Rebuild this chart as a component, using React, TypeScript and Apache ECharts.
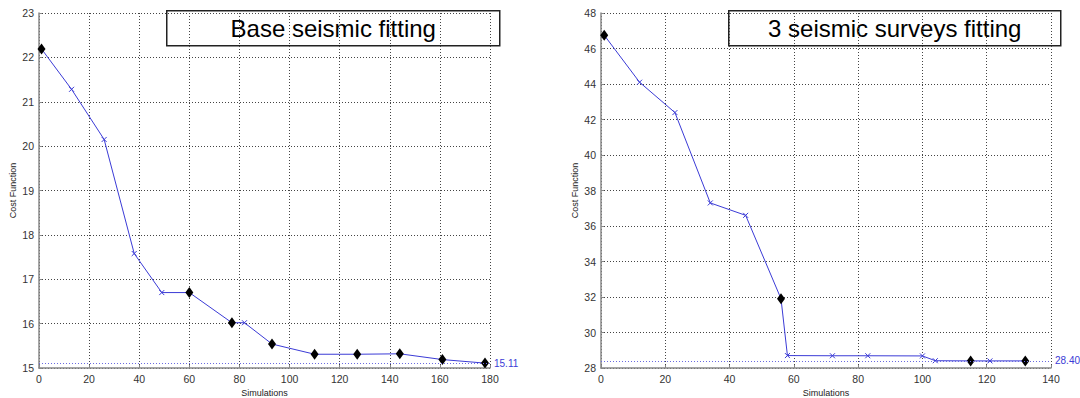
import React, { useEffect, useRef } from "react";
import * as echarts from "echarts";

// Left chart: Base seismic fitting
const leftSims = [1, 13, 26, 38, 49, 60, 77, 82, 93, 110, 127, 144, 161, 178];
const leftCost = [22.19, 21.28, 20.15, 17.58, 16.7, 16.7, 16.02, 16.02, 15.54, 15.31, 15.31, 15.32, 15.19, 15.11];
const leftMarks = ["D", "x", "x", "x", "x", "D", "D", "x", "D", "D", "D", "D", "D", "D"];
const leftFinal = 15.11;

// Right chart: 3 seismic surveys fitting
const rightSims = [1, 12, 23, 34, 45, 56, 58, 72, 83, 100, 104, 115, 121, 132];
const rightCost = [46.75, 44.1, 42.39, 37.3, 36.6, 31.9, 28.7, 28.69, 28.69, 28.68, 28.41, 28.4, 28.4, 28.4];
const rightMarks = ["D", "x", "x", "x", "x", "D", "x", "x", "x", "x", "x", "D", "x", "D"];
const rightFinal = 28.4;

const titles = ["Base seismic fitting", "3 seismic surveys fitting"];
const xName = "Simulations";
const yName = "Cost Function";

const BLUE = "#3b3bd6";
const FONT = "'Liberation Sans', Arial, sans-serif";
const X_MARK = "path://M0 0L10 10M10 0L0 10";

function buildData(xs: number[], ys: number[], marks: string[]) {
  return xs.map((x, i) =>
    marks[i] === "D"
      ? {
          value: [x, ys[i]],
          symbol: "diamond",
          symbolSize: [8, 11],
          itemStyle: { color: "#000", borderColor: "#000", borderWidth: 0 },
        }
      : {
          value: [x, ys[i]],
          symbol: X_MARK,
          symbolSize: 5,
          itemStyle: { color: "rgba(0,0,0,0)", borderColor: BLUE, borderWidth: 1 },
        }
  );
}

const splitStyle = { show: true, lineStyle: { color: "#444", type: [1, 2] as any, width: 1 } };
const axisLine = { show: true, lineStyle: { color: "#888", width: 1.5 } };
const axisLabel = { color: "#333", fontSize: 10.5, fontFamily: FONT, margin: 5 };
const axisTick = { show: true, inside: true, length: 3, lineStyle: { color: "#888" } };

function xAxis(idx: number, max: number) {
  return {
    type: "value",
    gridIndex: idx,
    min: 0,
    max,
    interval: 20,
    axisLine,
    axisTick,
    axisLabel,
    splitLine: splitStyle,
    name: xName,
    nameLocation: "middle",
    nameGap: 18,
    nameTextStyle: { color: "#222", fontSize: 9, fontFamily: FONT },
  };
}

function yAxis(idx: number, min: number, max: number, interval: number) {
  return {
    type: "value",
    gridIndex: idx,
    min,
    max,
    interval,
    axisLine,
    axisTick,
    axisLabel,
    splitLine: splitStyle,
    name: yName,
    nameLocation: "middle",
    nameGap: 22,
    nameTextStyle: { color: "#222", fontSize: 9, fontFamily: FONT },
  };
}

function series(idx: number, xs: number[], ys: number[], marks: string[], final: number) {
  return {
    type: "line",
    xAxisIndex: idx,
    yAxisIndex: idx,
    data: buildData(xs, ys, marks),
    lineStyle: { color: BLUE, width: 1 },
    itemStyle: { color: BLUE },
    showAllSymbol: true,
    markLine: {
      silent: true,
      symbol: "none",
      lineStyle: { color: "#6a6ae0", type: [1, 2] as any, width: 1 },
      label: {
        show: true,
        position: "end",
        formatter: final.toFixed(2),
        color: BLUE,
        fontSize: 10,
        fontFamily: FONT,
        distance: 4,
      },
      data: [{ yAxis: final }],
    },
    z: 3,
  };
}

function titleBox(left: number, width: number, text: string) {
  return {
    type: "group",
    left,
    top: 10,
    z: 10,
    children: [
      {
        type: "rect",
        shape: { x: 0, y: 0, width, height: 35 },
        style: { fill: "#fff", stroke: "#222", lineWidth: 1.5 },
      },
      {
        type: "text",
        x: width / 2,
        y: 18,
        style: {
          text,
          fill: "#000",
          font: `24px ${FONT}`,
          align: "center",
          verticalAlign: "middle",
        },
      },
    ],
  };
}

export default function App() {
  const ref = useRef<HTMLDivElement>(null);
  useEffect(() => {
    if (!ref.current) return;
    const chart = echarts.init(ref.current, undefined, { renderer: "svg" });
    chart.setOption({
      animation: false,
      backgroundColor: "#fff",
      grid: [
        { left: 39, top: 13, width: 451, bottom: 30, outerBoundsMode: "none", containLabel: false },
        { left: 601, top: 13, width: 450, bottom: 30, outerBoundsMode: "none", containLabel: false },
      ],
      xAxis: [xAxis(0, 180), xAxis(1, 140)],
      yAxis: [yAxis(0, 15, 23, 1), yAxis(1, 28, 48, 2)],
      series: [
        series(0, leftSims, leftCost, leftMarks, leftFinal),
        series(1, rightSims, rightCost, rightMarks, rightFinal),
      ],
      graphic: [titleBox(166, 333, titles[0]), titleBox(728, 332, titles[1])],
    });
    return () => chart.dispose();
  }, []);
  return (
    <div
      ref={ref}
      style={{ position: "absolute", left: 0, top: 0, width: 1080, height: 398, background: "#fff" }}
    />
  );
}
